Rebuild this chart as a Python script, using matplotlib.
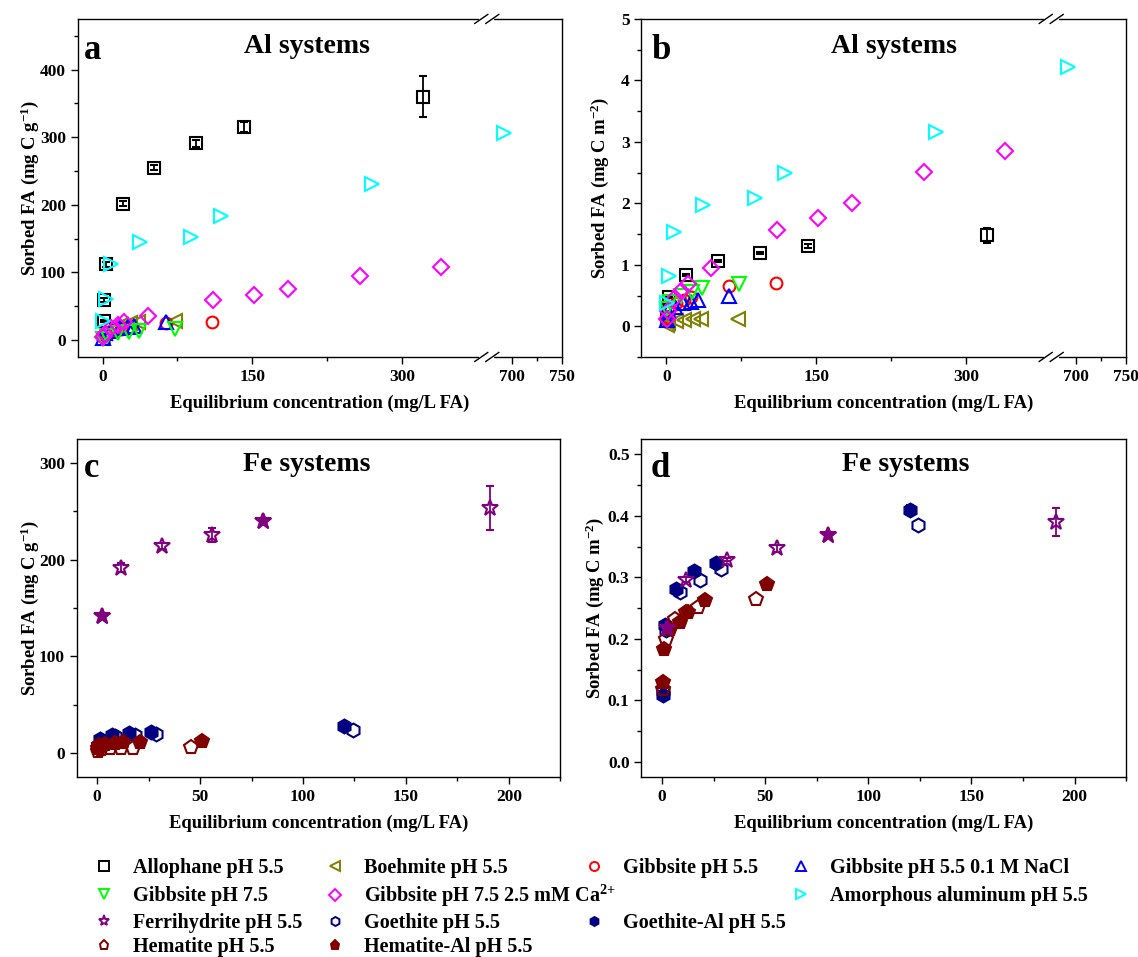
import numpy as np
import matplotlib
matplotlib.use("Agg")
import matplotlib.pyplot as plt
import matplotlib.transforms as mtransforms
from matplotlib.lines import Line2D
from matplotlib.ticker import MultipleLocator, FixedLocator, FormatStrFormatter

plt.rcParams["font.family"] = ["Liberation Serif", "DejaVu Serif"]
plt.rcParams["font.weight"] = "bold"
plt.rcParams["mathtext.fontset"] = "custom"
plt.rcParams["mathtext.rm"] = "Liberation Serif:bold"
plt.rcParams["mathtext.it"] = "Liberation Serif:bold"
plt.rcParams["mathtext.bf"] = "Liberation Serif:bold"
plt.rcParams["mathtext.default"] = "rm"

# ---------------- Al systems (panels a, b) ----------------
allophane_x = [1.0, 1.5, 3.0, 20.0, 51.5, 94.0, 142.0, 321.0]
allophane_g = [28, 59, 112, 202, 255, 291, 315, 360]
allophane_g_err = [2, 3, 4, 4, 4, 5, 7, 30]
allophane_m = [0.115, 0.243, 0.48, 0.835, 1.06, 1.19, 1.30, 1.48]
allophane_m_err = [0.01, 0.01, 0.02, 0.02, 0.02, 0.02, 0.03, 0.12]

boehmite_x = [0.5, 2.0, 10.0, 18.0, 27.0, 35.0, 72.0]
boehmite_g = [5, 11, 18, 22, 25, 27, 28]
boehmite_m = [0.02, 0.05, 0.09, 0.10, 0.11, 0.11, 0.125]

gib55_x = [0.5, 3.0, 10.0, 18.0, 25.0, 63.0, 110.0]
gib55_g = [5.7, 10.6, 14.3, 16.2, 17.7, 24.5, 26.6]
gib55_m = [0.15, 0.28, 0.38, 0.43, 0.47, 0.65, 0.705]

nacl_x = [0.5, 2.0, 8.6, 17.0, 25.0, 31.6, 63.0]
nacl_g = [3, 10, 14, 17.5, 19.5, 21, 26.5]
nacl_m = [0.10, 0.25, 0.32, 0.37, 0.40, 0.43, 0.49]

gib75_x = [0.5, 4.0, 15.0, 26.0, 36.0, 72.5]
gib75_g = [1, 6, 10, 12.5, 14, 17]
gib75_m = [0.28, 0.40, 0.50, 0.55, 0.62, 0.69]

gibca_x = [0.5, 2.0, 8.6, 15.0, 21.6, 45.0, 111.0, 152.0, 186.0, 258.0, 339.0]
gibca_g = [4.6, 9, 17.5, 22, 26, 36, 59, 67, 76, 95, 108]
gibca_m = [0.12, 0.24, 0.46, 0.57, 0.68, 0.95, 1.56, 1.76, 2.01, 2.51, 2.85]

amorph_x = [0.5, 3.0, 8.0, 37.0, 89.0, 119.0, 270.0, 692.0]
amorph_g = [28, 60, 112, 145, 153, 183, 231, 307]
amorph_m = [0.38, 0.81, 1.53, 1.97, 2.09, 2.50, 3.16, 4.21]

# ---------------- Fe systems (panels c, d) ----------------
ferri_x = [2.5, 11.5, 31.7, 55.9, 80.5, 190.9]
ferri_g = [141.4, 192, 214.5, 225.5, 240, 253.5]
ferri_g_err = [0, 5, 3, 7, 0, 23]
ferri_m = [0.2175, 0.296, 0.329, 0.347, 0.369, 0.390]
ferri_m_err = [0, 0.004, 0.003, 0.005, 0, 0.022]
ferri_filled = [0, 4]

goe_x = [0.5, 2.0, 8.8, 18.5, 28.7, 124.2]
goe_g = [7.3, 13.6, 17.8, 19.0, 19.8, 24.2]
goe_m = [0.115, 0.215, 0.276, 0.296, 0.313, 0.385]

goeal_x = [0.5, 1.3, 7.0, 15.7, 26.0, 120.0]
goeal_g = [7.5, 15.1, 19.1, 21.1, 22.0, 27.9]
goeal_m = [0.108, 0.222, 0.281, 0.311, 0.324, 0.410]
goeal_m_err = [0, 0, 0, 0, 0, 0.008]

hem_x = [0.5, 1.7, 6.1, 11.5, 17.4, 45.5]
hem_g = [2.6, 4.4, 5.2, 5.4, 5.6, 6.0]
hem_m = [0.119, 0.200, 0.2325, 0.243, 0.2515, 0.265]

hemal_x = [0.4, 0.9, 4.0, 8.5, 12.5, 20.6, 50.9]
hemal_g = [5.8, 8.3, 9.7, 10.2, 11.0, 11.8, 13.0]
hemal_m = [0.1295, 0.184, 0.2165, 0.228, 0.243, 0.2635, 0.2895]

LEG_FS = 14.5
LABEL_FS = 13.4


def fwd(x):
    x = np.asarray(x, dtype=float)
    return np.where(x <= 385, x, np.where(x >= 675, x - 290, 385))


def inv(t):
    t = np.asarray(t, dtype=float)
    return np.where(t <= 385, t, t + 290)


def plot_series(ax, x, y, color, marker, filled=False, yerr=None, ms=9):
    fc = color if filled else "none"
    ax.errorbar(x, y, yerr=yerr, fmt=marker, color=color, mfc=fc, mec=color,
                ms=ms, mew=1.5, elinewidth=1.3, capsize=3, capthick=1.3,
                clip_on=False, zorder=3)


def draw_break(ax, xf):
    fig = ax.figure
    for ys in (0, 1):
        base = fig.dpi_scale_trans + mtransforms.ScaledTranslation(xf, ys, ax.transAxes)
        ax.add_line(Line2D([-0.055, 0.055], [0, 0], transform=base, color="white",
                           lw=3, clip_on=False, zorder=5))
        for cx in (-0.055, 0.055):
            ax.add_line(Line2D([cx - 0.065, cx + 0.065], [-0.045, 0.045], transform=base,
                               color="black", lw=1.0, clip_on=False, zorder=6))


def style_axes(ax, letter, title, letter_pos, title_pos):
    for sp in ax.spines.values():
        sp.set_linewidth(1.0)
    ax.tick_params(which="major", direction="out", length=5, width=1.0, labelsize=12.5,
                   top=False, right=False)
    ax.tick_params(which="minor", direction="out", length=3, width=1.0, top=False, right=False)
    ax.text(letter_pos[0], letter_pos[1], letter, transform=ax.transAxes, fontsize=25,
            fontweight="bold", ha="left", va="baseline")
    ax.text(title_pos[0], title_pos[1], title, transform=ax.transAxes, fontsize=20,
            fontweight="bold", ha="center", va="baseline")


fig = plt.figure(figsize=(11.38, 9.57), dpi=100)
ax_a = fig.add_axes([0.0683, 0.6270, 0.4252, 0.3532])
ax_b = fig.add_axes([0.5636, 0.6270, 0.4260, 0.3532])
ax_c = fig.add_axes([0.0673, 0.1878, 0.4251, 0.3535])
ax_d = fig.add_axes([0.5636, 0.1878, 0.4260, 0.3535])

# panels a and b
for ax, unit in ((ax_a, "g"), (ax_b, "m")):
    if unit == "g":
        ys = [allophane_g, boehmite_g, gib55_g, nacl_g, gib75_g, gibca_g, amorph_g]
        errs = allophane_g_err
    else:
        ys = [allophane_m, boehmite_m, gib55_m, nacl_m, gib75_m, gibca_m, amorph_m]
        errs = allophane_m_err
    xs = [allophane_x, boehmite_x, gib55_x, nacl_x, gib75_x, gibca_x, amorph_x]
    cols = ["black", "#808000", "red", "blue", "#00ff00", "#ff00ff", "#00ffff"]
    mks = ["s", "<", "o", "^", "v", "D", ">"]
    for i, (x, y, c, m) in enumerate(zip(xs, ys, cols, mks)):
        plot_series(ax, x, y, c, m, yerr=errs if i == 0 else None,
                    ms=8.5 if m in ("s", "D", "o") else 9.5)
    ax.set_xscale("function", functions=(fwd, inv))
    ax.set_xlim(-25, 750)
    ax.xaxis.set_major_locator(FixedLocator([0, 150, 300, 700, 750]))
    ax.xaxis.set_minor_locator(FixedLocator([75, 225, 725]))
    ax.xaxis.set_major_formatter(FormatStrFormatter("%d"))
    ax.xaxis.set_minor_formatter(plt.NullFormatter())
    draw_break(ax, (385 + 25) / 485)

ax_a.set_ylim(-25, 475)
ax_a.yaxis.set_major_locator(FixedLocator([0, 100, 200, 300, 400]))
ax_a.yaxis.set_minor_locator(FixedLocator([50, 150, 250, 350, 450]))
ax_a.set_ylabel("Sorbed FA (mg C g$^{-1}$)", fontsize=LABEL_FS, fontweight="bold")
ax_a.yaxis.set_label_coords(-0.076, 0.5)

ax_b.set_ylim(-0.5, 5)
ax_b.yaxis.set_major_locator(MultipleLocator(1))
ax_b.yaxis.set_minor_locator(MultipleLocator(0.5))
ax_b.set_ylabel("Sorbed FA (mg C m$^{-2}$)", fontsize=LABEL_FS, fontweight="bold")
ax_b.yaxis.set_label_coords(-0.063, 0.5)

# panels c and d
for ax, unit in ((ax_c, "g"), (ax_d, "m")):
    if unit == "g":
        fy, fe, gy, gay, hy, hay = ferri_g, ferri_g_err, goe_g, goeal_g, hem_g, hemal_g
        gae = None
    else:
        fy, fe, gy, gay, hy, hay = ferri_m, ferri_m_err, goe_m, goeal_m, hem_m, hemal_m
        gae = goeal_m_err
    plot_series(ax, goeal_x, gay, "#000080", "h", filled=True, yerr=gae, ms=10)
    plot_series(ax, goe_x, gy, "#000080", "h", ms=10)
    plot_series(ax, hemal_x, hay, "#800000", "p", filled=True, ms=10.5)
    plot_series(ax, hem_x, hy, "#800000", "p", ms=10.5)
    plot_series(ax, ferri_x, fy, "#800080", "*", yerr=fe, ms=12)
    ax.plot([ferri_x[i] for i in ferri_filled], [fy[i] for i in ferri_filled],
            linestyle="none", marker="*", ms=12, color="#800080", mec="#800080", zorder=4)
    ax.set_xlim(-10, 225)
    ax.xaxis.set_major_locator(MultipleLocator(50))
    ax.xaxis.set_minor_locator(MultipleLocator(25))

ax_c.set_ylim(-25, 325)
ax_c.yaxis.set_major_locator(MultipleLocator(100))
ax_c.yaxis.set_minor_locator(MultipleLocator(50))
ax_c.set_ylabel("Sorbed FA (mg C g$^{-1}$)", fontsize=LABEL_FS, fontweight="bold")
ax_c.yaxis.set_label_coords(-0.074, 0.5)

ax_d.set_ylim(-0.025, 0.525)
ax_d.yaxis.set_major_locator(MultipleLocator(0.1))
ax_d.yaxis.set_minor_locator(MultipleLocator(0.05))
ax_d.yaxis.set_major_formatter(FormatStrFormatter("%.1f"))
ax_d.set_ylabel("Sorbed FA (mg C m$^{-2}$)", fontsize=LABEL_FS, fontweight="bold")
ax_d.yaxis.set_label_coords(-0.072, 0.5)

for ax in (ax_a, ax_b, ax_c, ax_d):
    ax.set_xlabel("Equilibrium concentration (mg/L FA)", fontsize=LABEL_FS, fontweight="bold")
    ax.xaxis.set_label_coords(0.5, -0.112)

style_axes(ax_a, "a", "Al systems", (0.0136, 0.881), (0.474, 0.900))
style_axes(ax_b, "b", "Al systems", (0.021, 0.881), (0.520, 0.900))
style_axes(ax_c, "c", "Fe systems", (0.016, 0.889), (0.476, 0.906))
style_axes(ax_d, "d", "Fe systems", (0.0186, 0.888), (0.546, 0.906))

# legend: one entry per slot so that the rows line up as in the original
legend_labels = ["Allophane pH 5.5", "Boehmite pH 5.5", "Gibbsite pH 5.5",
                 "Gibbsite pH 5.5 0.1 M NaCl", "Gibbsite pH 7.5",
                 "Gibbsite pH 7.5 2.5 mM Ca$^{2{+}}$", "Amorphous aluminum pH 5.5",
                 "Ferrihydrite pH 5.5", "Goethite pH 5.5", "Goethite-Al pH 5.5",
                 "Hematite pH 5.5", "Hematite-Al pH 5.5"]
legend_colors = ["black", "#808000", "red", "blue", "#00ff00", "#ff00ff", "#00ffff",
                 "#800080", "#000080", "#000080", "#800000", "#800000"]
legend_markers = ["s", "<", "o", "^", "v", "D", ">", "*", "h", "h", "p", "p"]
legend_filled = [False, False, False, False, False, False, False, False, False, True, False, True]
legend_slots = [(0, 0), (1, 0), (2, 0), (3, 0), (0, 1), (1, 1), (3, 1),
                (0, 2), (1, 2), (2, 2), (0, 3), (1, 3)]

col_marker_px = [104, 335, 594, 801]
row_center_px = [868, 896, 923, 947]
hl = 0.8
for lab, col, mk, fl, (ci, ri) in zip(legend_labels, legend_colors, legend_markers,
                                        legend_filled, legend_slots):
    handle = Line2D([], [], linestyle="none", marker=mk, color=col,
                    mfc=col if fl else "none", mec=col,
                    ms=8 if mk == "*" else 6.5, mew=1.4)
    left_px = col_marker_px[ci] - hl * LEG_FS * 100 / 72 / 2
    fig.legend([handle], [lab], loc="center left",
               bbox_to_anchor=(left_px / 1138, 1 - row_center_px[ri] / 957),
               frameon=False, fontsize=LEG_FS, handlelength=hl, handletextpad=1.05,
               borderpad=0, borderaxespad=0)

fig.savefig("out.png", dpi=100)
